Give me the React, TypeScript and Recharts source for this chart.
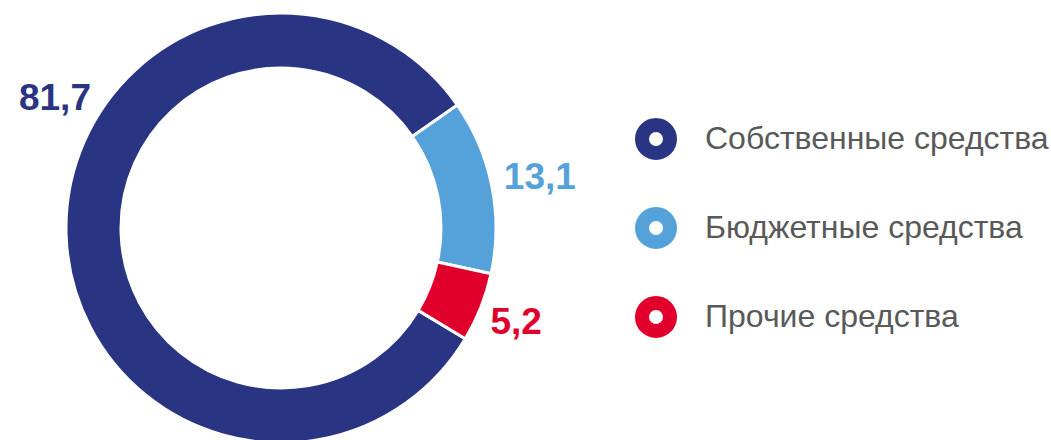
import { Legend, Pie, PieChart, Cell } from "recharts";

const sourceNames = ["Собственные средства", "Бюджетные средства", "Прочие средства"];
const sourceShares = [81.7, 13.1, 5.2];
const sourceColors = ["#293583", "#55a1d9", "#e0002b"];

// the big slice's label sits up-left instead of on its mid angle
const labelAngleOverride: Record<string, number> = { "Собственные средства": 150 };
const labelGap: Record<string, number> = {
  "Собственные средства": 46,
  "Бюджетные средства": 49,
  "Прочие средства": 38
};

const chartData = sourceNames.map((name, i) => ({ name, value: sourceShares[i] }));

const RADIAN = Math.PI / 180;
const fontStack = "Arial, 'Liberation Sans', sans-serif";

function renderLabel(props: any) {
  const { cx, cy, midAngle, outerRadius, index, name } = props;
  const angle = labelAngleOverride[name] ?? midAngle;
  const r = outerRadius + (labelGap[name] ?? 46);
  const x = cx + r * Math.cos(-angle * RADIAN);
  const y = cy + r * Math.sin(-angle * RADIAN);
  return (
    <text
      x={x}
      y={y}
      fill={sourceColors[index]}
      textAnchor="middle"
      dominantBaseline="central"
      fontFamily={fontStack}
      fontWeight="bold"
      fontSize={37}
    >
      {sourceShares[index].toFixed(1).replace(".", ",")}
    </text>
  );
}

function SourceLegend() {
  return (
    <div style={{ fontFamily: fontStack }}>
      {sourceNames.map((name, i) => (
        <div key={name} style={{ display: "flex", alignItems: "center", height: 89 }}>
          <svg width={44} height={44} style={{ marginRight: 27 }}>
            <circle cx={22} cy={22} r={14} fill="none" stroke={sourceColors[i]} strokeWidth={14} />
          </svg>
          <span style={{ fontSize: 32, color: "#595959" }}>{name}</span>
        </div>
      ))}
    </div>
  );
}

export default function App() {
  return (
    <div style={{ position: "absolute", left: 0, top: 0, width: 1051, height: 440, background: "#fff" }}>
      <PieChart width={1051} height={440} margin={{ top: 0, right: 0, bottom: 0, left: 0 }}>
        <Pie
          data={chartData}
          dataKey="value"
          nameKey="name"
          cx={281}
          cy={228}
          innerRadius={160}
          outerRadius={215}
          startAngle={329}
          endAngle={-31}
          stroke="#ffffff"
          strokeWidth={3}
          label={renderLabel}
          labelLine={false}
          isAnimationActive={false}
        >
          {chartData.map((d, i) => (
            <Cell key={d.name} fill={sourceColors[i]} />
          ))}
        </Pie>
        <Legend
          layout="vertical"
          content={() => <SourceLegend />}
          wrapperStyle={{ position: "absolute", left: 634, top: 94, width: 420 }}
        />
      </PieChart>
    </div>
  );
}
